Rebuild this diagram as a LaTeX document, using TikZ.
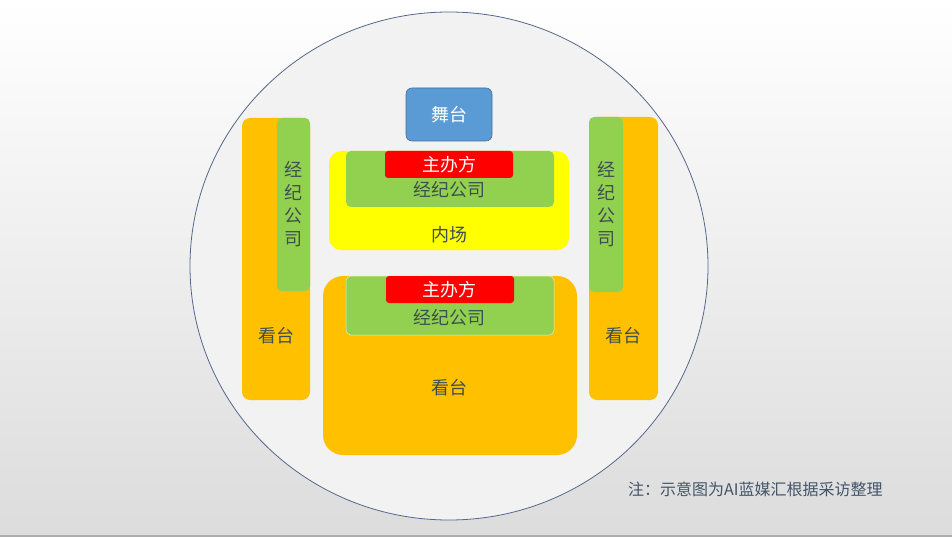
\documentclass[tikz,border=0pt]{standalone}
\usepackage{fontspec}
\setmainfont{Noto Sans CJK SC}
\definecolor{bgtop}{HTML}{FFFFFF}
\definecolor{bgbot}{HTML}{DCDCDC}
\definecolor{ringc}{HTML}{56688A}
\definecolor{ringfill}{HTML}{F2F2F2}
\definecolor{stagec}{HTML}{5B9BD5}
\definecolor{stageline}{HTML}{41719C}
\definecolor{orangec}{HTML}{FFC000}
\definecolor{greenc}{HTML}{92D050}
\definecolor{redc}{HTML}{FF0000}
\definecolor{yellowc}{HTML}{FFFF00}
\definecolor{txtc}{HTML}{3F4F4F}
\definecolor{notec}{HTML}{44546A}
\begin{document}
\begin{tikzpicture}[x=1pt,y=-1pt,
  lbl/.style={text=txtc,font=\fontsize{18}{23}\selectfont,inner sep=0pt},
]
\useasboundingbox (0,0) rectangle (952,537);
\shade[top color=bgtop,bottom color=bgbot] (0,0) rectangle (952,537);
\fill[gray!65] (0,534.5) rectangle (952,537);
% ring
\draw[ringc,fill=ringfill,line width=0.8pt] (449,266) ellipse [x radius=259,y radius=254];
% stage
\draw[stageline,fill=stagec,rounded corners=6pt,line width=0.6pt] (406,88) rectangle (492,141);
\node[lbl,text=white] (stage) at (449,115) {舞台};
% inner field
\fill[yellowc,rounded corners=12pt] (329,151) rectangle (569,250);
\fill[greenc,rounded corners=5pt] (346,151) rectangle (554,207);
\fill[redc,rounded corners=3pt] (385,151) rectangle (513,178);
\node[lbl,text=white] (host1) at (449,164.5) {主办方};
\node[lbl] (agency1) at (449,190) {经纪公司};
\node[lbl] (field) at (449,235) {内场};
% bottom stand
\fill[orangec,rounded corners=20pt] (323,276) rectangle (577,455);
\draw[white!70!greenc,fill=greenc,rounded corners=5pt,line width=0.5pt] (346,276) rectangle (554,335);
\fill[redc,rounded corners=3pt] (386,276) rectangle (514,303);
\node[lbl,text=white] (host2) at (449,289.5) {主办方};
\node[lbl] (agency2) at (449,318) {经纪公司};
\node[lbl] (standB) at (449,388) {看台};
% left stand
\fill[orangec,rounded corners=8pt] (242,118) rectangle (310,400);
\fill[greenc,rounded corners=5pt] (277,118) rectangle (310,291);
\node[lbl,align=center] (agencyL) at (293.5,204) {经\\纪\\公\\司};
\node[lbl] (standL) at (276,336) {看台};
% right stand
\fill[orangec,rounded corners=8pt] (589,117) rectangle (658,400);
\fill[greenc,rounded corners=5pt] (589,117) rectangle (623,292);
\node[lbl,align=center] (agencyR) at (606,204) {经\\纪\\公\\司};
\node[lbl] (standR) at (623,336) {看台};
% note
\node[text=notec,font=\fontsize{16}{19}\selectfont,inner sep=0pt,anchor=west] (note) at (628,489) {注：示意图为AI蓝媒汇根据采访整理};
\end{tikzpicture}
\end{document}
